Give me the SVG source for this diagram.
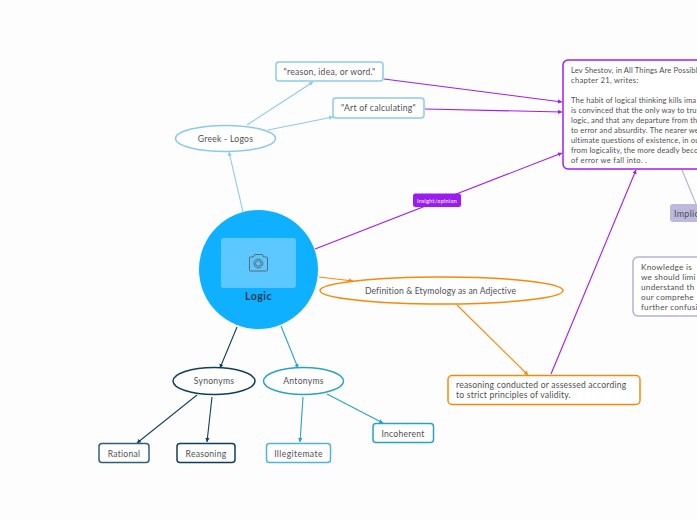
<svg xmlns="http://www.w3.org/2000/svg" width="697" height="520" viewBox="0 0 697 520">
<style>
text{font-family:"Lato","Noto Sans","Liberation Sans",sans-serif;font-size:8.6px;fill:#505050;letter-spacing:.25px}
.c{text-anchor:middle}
.s{font-size:7.6px;letter-spacing:.13px}
.k{font-size:8.2px}
.n{fill:#fff;stroke-width:1.5}
.l{fill:none;stroke-width:1.1}
.sky{stroke:#8ccbe8}.pur{stroke:#a21cf2}.org{stroke:#f58a0a}.navy{stroke:#0f3f5c}.teal{stroke:#27a3c4}.lav{stroke:#b5b0d8}
</style>
<defs>
<marker id="asky" markerWidth="5" markerHeight="5" refX="3.600" refY="2" orient="auto"><path d="M0 0L3.600 2L0 4Z" fill="#8ccbe8"/></marker>
<marker id="apur" markerWidth="5" markerHeight="5" refX="3.600" refY="2" orient="auto"><path d="M0 0L3.600 2L0 4Z" fill="#a21cf2"/></marker>
<marker id="aorg" markerWidth="5" markerHeight="5" refX="3.600" refY="2" orient="auto"><path d="M0 0L3.600 2L0 4Z" fill="#f58a0a"/></marker>
<marker id="anavy" markerWidth="5" markerHeight="5" refX="3.600" refY="2" orient="auto"><path d="M0 0L3.600 2L0 4Z" fill="#0f3f5c"/></marker>
<marker id="ateal" markerWidth="5" markerHeight="5" refX="3.600" refY="2" orient="auto"><path d="M0 0L3.600 2L0 4Z" fill="#27a3c4"/></marker>
</defs>
<rect width="697" height="520" fill="#fdfdfd"/>
<g id="connectors">
<path class="l sky" marker-end="url(#asky)" d="M243 212L229 152"/>
<path class="l sky" marker-end="url(#asky)" d="M247 125L313 82"/>
<path class="l sky" marker-end="url(#asky)" d="M268 130L333 117"/>
<path class="l pur" marker-end="url(#apur)" d="M384 79L562 102"/>
<path class="l pur" marker-end="url(#apur)" d="M425 109L562 112"/>
<path class="l pur" marker-end="url(#apur)" d="M315 249L562 153"/>
<path class="l pur" marker-end="url(#apur)" d="M551 374L636 170"/>
<path class="l org" marker-end="url(#aorg)" d="M319 277L353 281"/>
<path class="l org" marker-end="url(#aorg)" d="M457 305L528 375"/>
<path class="l navy" marker-end="url(#anavy)" d="M237 327L220 368"/>
<path class="l teal" marker-end="url(#ateal)" d="M281 326L298 368"/>
<path class="l navy" marker-end="url(#anavy)" d="M197 395L137 443"/>
<path class="l navy" marker-end="url(#anavy)" d="M212 397L207 442"/>
<path class="l teal" marker-end="url(#ateal)" d="M303 397L300 442"/>
<path class="l teal" marker-end="url(#ateal)" d="M327 394L383 423"/>
<path class="l lav" d="M682 170L696 204"/>
</g>
<g id="node-logic">
<circle cx="258.500" cy="269.500" r="59.500" fill="#0fb0ff"/>
<rect x="221" y="238" width="75" height="50" rx="3" fill="#5cc8ff"/>
<g fill="none" stroke="#5a6b78" stroke-width="1"><path d="M249.500 258a1 1 0 0 1 1-1h3l1-2.500h8l1 2.500h3a1 1 0 0 1 1 1v12a1 1 0 0 1-1 1h-16a1 1 0 0 1-1-1z"/><circle cx="258.300" cy="263.500" r="4.500"/><circle cx="258.300" cy="263.500" r="2.800"/></g>
<text class="c" x="258.500" y="299.500" style="font-size:10.500px;font-weight:700;fill:#1b3a50;letter-spacing:.5px">Logic</text>
</g>
<g id="node-greek"><ellipse class="n sky" cx="225.500" cy="138.500" rx="50" ry="13"/><text class="c" x="225.500" y="141.500">Greek - Logos</text></g>
<g id="node-reason"><rect class="n sky" x="276" y="62" width="107" height="19" rx="3"/><text class="c" x="329.500" y="74.500">"reason, idea, or word."</text></g>
<g id="node-art"><rect class="n sky" x="333" y="98" width="91" height="20" rx="3"/><text class="c" x="378.500" y="111">"Art of calculating"</text></g>
<g id="node-shestov"><rect class="n pur" x="563" y="60" width="160" height="109" rx="5"/>
<text class="s" x="571" y="73">Lev Shestov, in All Things Are Possibl</text>
<text class="s" x="571" y="83" style="letter-spacing:.3px">chapter 21, writes:</text>
<text class="s" x="571" y="103">The habit of logical thinking kills ima</text>
<text class="s" x="571" y="113">is convinced that the only way to trut</text>
<text class="s" x="571" y="123">logic, and that any departure from th</text>
<text class="s" x="571" y="133">to error and absurdity. The nearer we</text>
<text class="s" x="571" y="143">ultimate questions of existence, in ou</text>
<text class="s" x="571" y="153">from logicality, the more deadly beco</text>
<text class="s" x="571" y="163" style="letter-spacing:.3px">of error we fall into. .</text></g>
<g id="node-insight"><rect x="413" y="193.500" width="48" height="13.500" rx="2.500" fill="#9a1cf0"/><text class="c" x="437" y="202.500" style="font-size:5.500px;fill:#fff">Insight/opinion</text></g>
<g id="node-implications"><rect x="670" y="204" width="50" height="18" rx="3" fill="#bdb8dd"/><text x="674" y="216.500" style="font-size:9px">Implic</text></g>
<g id="node-knowledge"><rect class="n lav" x="633" y="257" width="110" height="59" rx="5"/>
<text class="k" x="641" y="270">Knowledge is</text>
<text class="k" x="641" y="280">we should limi</text>
<text class="k" x="641" y="290">understand th</text>
<text class="k" x="641" y="300">our comprehe</text>
<text class="k" x="641" y="310">further confusi</text></g>
<g id="node-definition"><ellipse class="n org" cx="441.500" cy="290.500" rx="121.500" ry="13.500"/><text class="c" x="440.500" y="293.500" style="letter-spacing:.12px">Definition &amp; Etymology as an Adjective</text></g>
<g id="node-reasoning-def"><rect class="n org" x="448" y="375.500" width="192" height="29" rx="4"/><text x="456" y="388" style="letter-spacing:.2px">reasoning conducted or assessed according</text><text x="456" y="398" style="letter-spacing:.2px">to strict principles of validity.</text></g>
<g id="node-synonyms"><ellipse class="n navy" cx="214" cy="381" rx="41" ry="13.500"/><text class="c" x="214" y="384">Synonyms</text></g>
<g id="node-antonyms"><ellipse class="n teal" cx="303.500" cy="381" rx="40" ry="13.500"/><text class="c" x="303.500" y="384">Antonyms</text></g>
<g id="node-rational"><rect class="n navy" x="99" y="443.500" width="50" height="19" rx="3" style="stroke:#2f5f7c"/><text class="c" x="124" y="456.500">Rational</text></g>
<g id="node-reasoning"><rect class="n navy" x="177" y="443.500" width="58" height="19" rx="3"/><text class="c" x="206" y="456.500">Reasoning</text></g>
<g id="node-illegitimate"><rect class="n teal" x="266.500" y="443.500" width="64" height="19" rx="3" style="stroke:#4fb6d2"/><text class="c" x="298.500" y="456.500" style="letter-spacing:.4px">Illegitemate</text></g>
<g id="node-incoherent"><rect class="n teal" x="373" y="423.500" width="60.500" height="19" rx="3"/><text class="c" x="403" y="436.500">Incoherent</text></g>
</svg>
